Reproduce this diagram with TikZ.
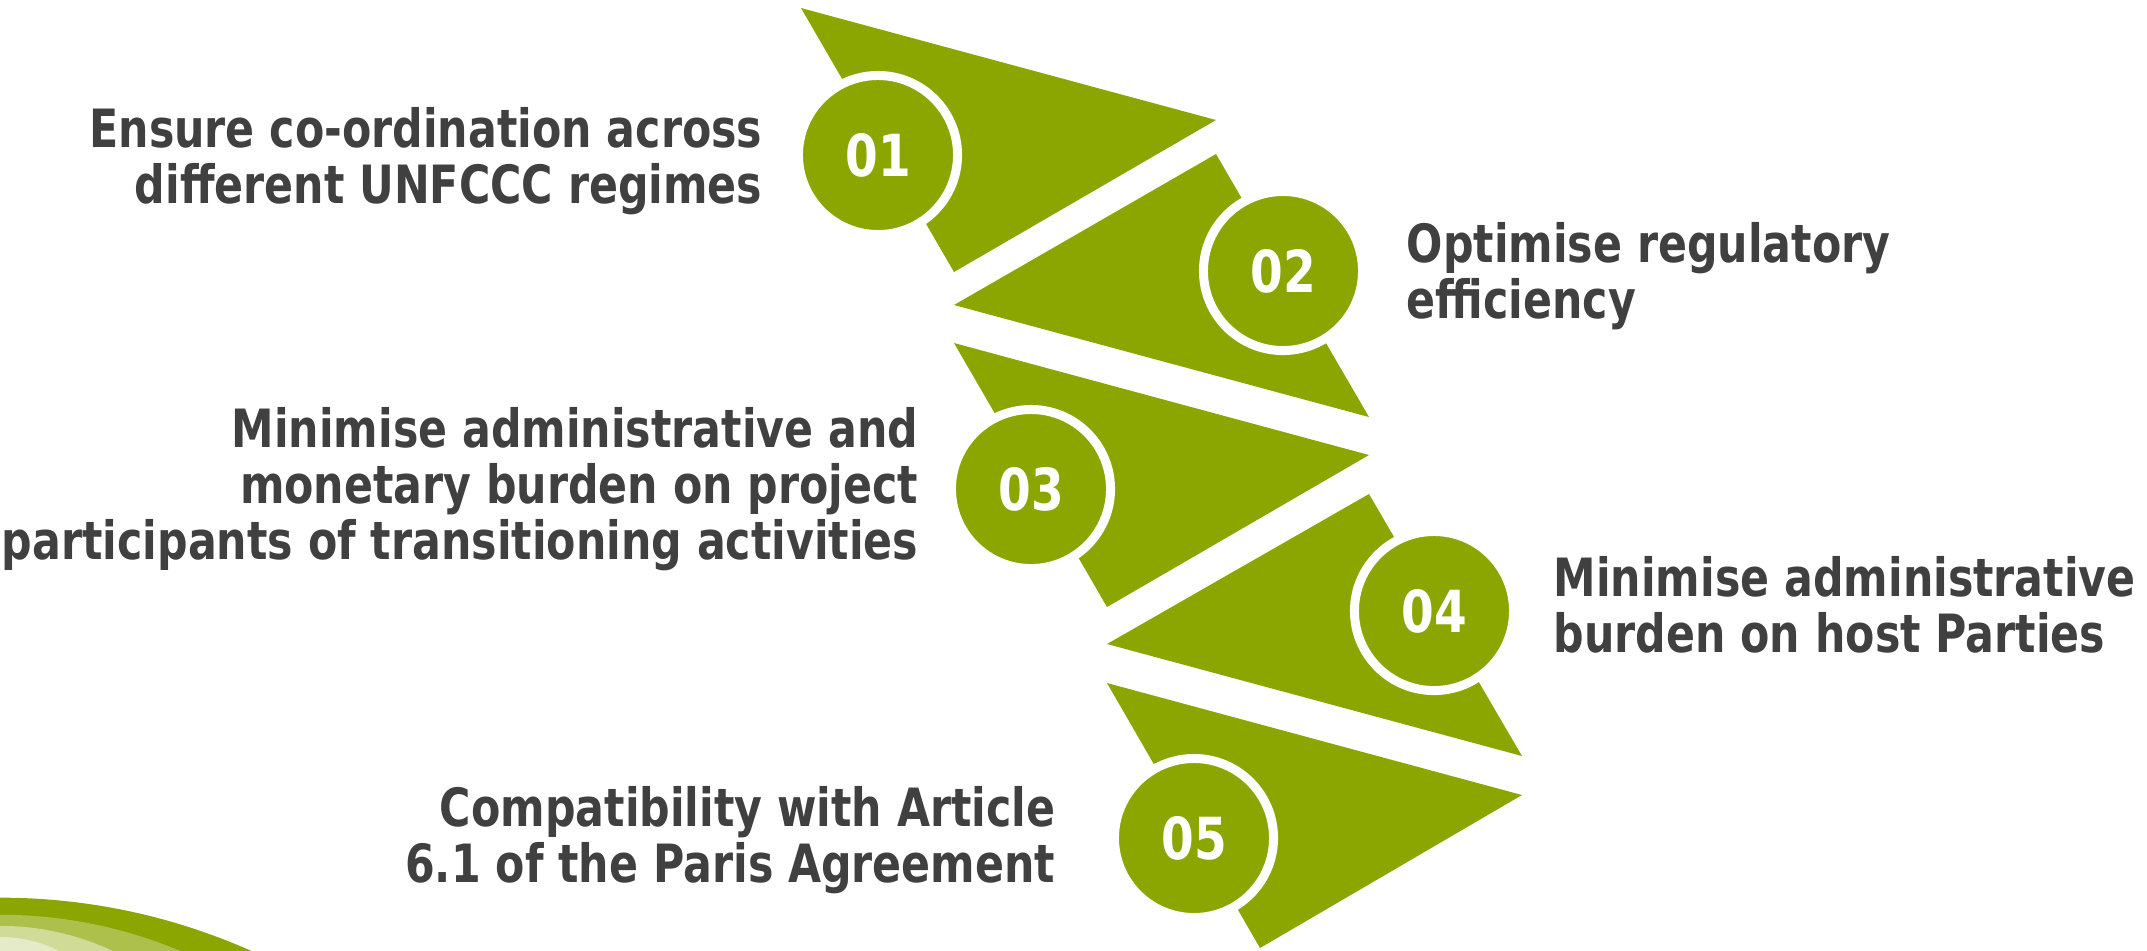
\documentclass[tikz,border=0pt]{standalone}
\usepackage{fontspec}
\setmainfont[FakeStretch=0.81]{DejaVu Sans}
\usetikzlibrary{positioning}
\definecolor{leafgreen}{RGB}{139,166,0}
\definecolor{textgrey}{RGB}{64,64,64}
\definecolor{bandone}{RGB}{174,192,76}
\definecolor{bandtwo}{RGB}{208,219,152}
\definecolor{bandthree}{RGB}{229,235,200}

\begin{document}
\begin{tikzpicture}[x=0.01cm,y=-0.01cm,
    wedge/.style={fill=leafgreen},
    badge/.style={circle,fill=leafgreen,draw=white,line width=0.09cm,minimum size=1.59cm,inner sep=0pt,text=white,font=\fontsize{16.5}{16.5}\selectfont\bfseries},
    goal/.style={text=textgrey,inner sep=0pt,font=\fontsize{15}{15.9}\selectfont\bfseries}]
        \useasboundingbox (0,0) rectangle (2147,950);
        % corner bands
        \begin{scope}
                \clip (0,0) rectangle (2147,950);
                \fill[leafgreen] (0,1515) circle (6.17cm);
                \fill[bandone] (0,1380) circle (4.65cm);
                \fill[bandtwo] (0,1190) circle (2.64cm);
                \fill[bandthree] (0,1068) circle (1.31cm);
        \end{scope}
        % wedges
        \fill[wedge] (801,8) -- (1216,120) -- (954,272) -- cycle;
        \fill[wedge] (1216,154) -- (954,305) -- (1369,417) -- cycle;
        \fill[wedge] (954,343) -- (1369,455) -- (1107,607) -- cycle;
        \fill[wedge] (1369,494) -- (1107,644) -- (1522,756) -- cycle;
        \fill[wedge] (1107,683) -- (1522,795) -- (1260,948) -- cycle;
        % badges
        \node[badge] (n01) at (878,155) {01};
        \node[badge] (n02) at (1283,271) {02};
        \node[badge] (n03) at (1031,489) {03};
        \node[badge] (n04) at (1434,611) {04};
        \node[badge] (n05) at (1194,838) {05};
        % goals (anchored on their last line)
        \node[goal,align=right,anchor=base east] (lab1) at (763,203) {Ensure co-ordination across\\different UNFCCC regimes};
        \node[goal,align=left,anchor=base west] (lab2) at (1406,318) {Optimise regulatory\\efficiency};
        \node[goal,align=right,anchor=base east] (lab3) at (919,559) {Minimise administrative and\\monetary burden on project\\participants of transitioning activities};
        \node[goal,align=left,anchor=base west] (lab4) at (1553,652) {Minimise administrative\\burden on host Parties};
        \node[goal,align=right,anchor=base east] (lab5) at (1056,882) {Compatibility with Article\\6.1 of the Paris Agreement};
\end{tikzpicture}
\end{document}
